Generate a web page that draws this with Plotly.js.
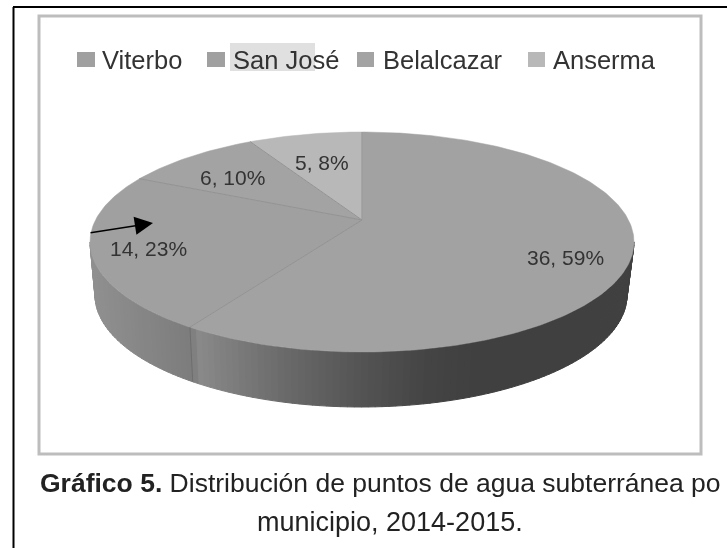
<!DOCTYPE html>
<html><head><meta charset="utf-8">
<script src="https://cdn.plot.ly/plotly-3.0.1.min.js"></script>
<style>html,body{margin:0;padding:0;background:#fff;overflow:hidden}#chart{width:727px;height:548px;filter:blur(0.7px)}</style>
</head><body><div id="chart"></div>
<script>
// ---- data ----
const categories = ["Viterbo", "San José", "Belalcazar", "Anserma"];
const values = [36, 14, 6, 5];
const sliceColors = ["#a2a2a2", "#a0a0a0", "#a3a3a3", "#b8b8b8"];
const captionLines = ["<b>Gráfico 5.</b> Distribución de puntos de agua subterránea po", "municipio, 2014-2015."];

// ---- layout constants (axes are in page pixels) ----
const topFace = {cx: 362, cy: 242, rx: 272, ry: 110, tilt: 0.2};
const bottomRim = {cx: 361, cy: 295, rx: 266, ry: 112};
const labelAt = [[565, 257], [148, 248], [232, 177], [322, 162]];
const swatchX = [[77, 95], [207, 225], [357, 374], [528, 545]];
const legendTextX = [100, 231, 381, 551];
const sideStops = [[90,0x90],[193,0x7c],[196,0x8a],[290,0x68],[370,0x52],[430,0x44],[480,0x40],[640,0x40]];

const total = values.reduce((a, b) => a + b, 0);

// circle angle (clockwise from the top) -> point of the tilted top face
function rim(theta, r) {
  const u = r * Math.sin(theta), v = r * Math.cos(theta), a = topFace.tilt;
  const d = 1 + a * v;
  return [topFace.cx + topFace.rx * u * Math.sqrt(1 - a * a) / d,
          topFace.cy - topFace.ry * (v + a) / d];
}
function sideGrey(x) {
  for (let i = 1; i < sideStops.length; i++) {
    if (x <= sideStops[i][0]) {
      const [x0, g0] = sideStops[i - 1], [x1, g1] = sideStops[i];
      const g = Math.round(g0 + (g1 - g0) * Math.max(0, x - x0) / (x1 - x0));
      return `rgb(${g},${g},${g})`;
    }
  }
  return "rgb(64,64,64)";
}

const traces = [];
// side wall strips
const strips = 120;
for (let i = 0; i < strips; i++) {
  const t0 = Math.PI + Math.PI * i / strips, t1 = Math.PI + Math.PI * (i + 1.05) / strips;
  const xs = [], ys = [];
  [[topFace, t0], [topFace, t1], [bottomRim, t1], [bottomRim, t0]].forEach(([e, t]) => {
    xs.push(e.cx + e.rx * Math.cos(t)); ys.push(e.cy - e.ry * Math.sin(t));
  });
  xs.push(xs[0]); ys.push(ys[0]);
  const c = sideGrey((xs[0] + xs[1]) / 2);
  traces.push({type: "scatter", mode: "lines", x: xs, y: ys, fill: "toself", fillcolor: c,
    line: {width: 1, color: c}, hoverinfo: "skip", showlegend: false});
}

// top-face slices
let cum = 0;
const boundaries = [];
values.forEach((v, i) => {
  const a0 = cum / total * 2 * Math.PI; cum += v;
  const a1 = cum / total * 2 * Math.PI;
  const xs = [], ys = [];
  const [ax, ay] = rim(0, 0); xs.push(ax); ys.push(ay);
  const n = Math.max(8, Math.round(v * 6));
  for (let k = 0; k <= n; k++) {
    const [px, py] = rim(a0 + (a1 - a0) * k / n, 1);
    xs.push(px); ys.push(py);
  }
  xs.push(ax); ys.push(ay);
  traces.push({type: "scatter", mode: "lines", name: categories[i], x: xs, y: ys, fill: "toself",
    fillcolor: sliceColors[i], line: {width: 0.5, color: sliceColors[i]}, hoverinfo: "skip", showlegend: false});
  boundaries.push(a1);
});
// slice separators on the top face
boundaries.forEach((a) => {
  const [ax, ay] = rim(0, 0), [px, py] = rim(a, 1);
  traces.push({type: "scatter", mode: "lines", x: [ax, px], y: [ay, py],
    line: {width: 1, color: "#939393"}, hoverinfo: "skip", showlegend: false});
});
// separator on the side wall at the Viterbo / San José edge
(function () {
  const a = values[0] / total * 2 * Math.PI;
  const [px, py] = rim(a, 1);
  const t = Math.atan2((topFace.cy - py) / topFace.ry, (px - topFace.cx) / topFace.rx);
  traces.push({type: "scatter", mode: "lines",
    x: [px, bottomRim.cx + bottomRim.rx * Math.cos(t)], y: [py, bottomRim.cy - bottomRim.ry * Math.sin(t)],
    line: {width: 1, color: "#6e6e6e"}, hoverinfo: "skip", showlegend: false});
})();

const textGrey = "#333333";
const annotations = [];
categories.forEach((c, i) => {
  annotations.push({x: legendTextX[i], y: 59.5, xref: "x", yref: "y", text: c, showarrow: false,
    xanchor: "left", yanchor: "middle", font: {family: "Liberation Sans", size: 25.5, color: textGrey}});
  const pct = Math.round(values[i] / total * 100);
  annotations.push({x: labelAt[i][0], y: labelAt[i][1], xref: "x", yref: "y", text: `${values[i]}, ${pct}%`,
    showarrow: false, xanchor: "center", yanchor: "middle", font: {family: "Liberation Sans", size: 21, color: textGrey}});
});
annotations.push({x: 38, y: 483, xref: "x", yref: "y", text: captionLines[0], showarrow: false, xanchor: "left", yanchor: "middle",
  font: {family: "Liberation Sans", size: 26.5, color: "#222222"}});
annotations.push({x: 390, y: 522, xref: "x", yref: "y", text: captionLines[1], showarrow: false, xanchor: "center", yanchor: "middle",
  font: {family: "Liberation Sans", size: 27, color: "#222222"}});
// the hand-drawn arrow
annotations.push({x: 153, y: 223, ax: 89, ay: 233, xref: "x", yref: "y", axref: "x", ayref: "y", text: "", showarrow: true,
  arrowhead: 2, arrowsize: 2.6, arrowwidth: 1.4, arrowcolor: "#000"});

const shapes = [
  {type: "rect", layer: "below", xref: "x", yref: "y", x0: 39, x1: 701, y0: 16, y1: 454, line: {color: "#bdbdbd", width: 3}, fillcolor: "#fff"},
  {type: "rect", layer: "below", xref: "x", yref: "y", x0: 230, x1: 315, y0: 43, y1: 71, line: {width: 0}, fillcolor: "#e0e0e0"},
  {type: "line", xref: "x", yref: "y", x0: 13.5, x1: 13.5, y0: 7, y1: 548, line: {color: "#000", width: 2}},
  {type: "line", xref: "x", yref: "y", x0: 13, x1: 727, y0: 7, y1: 7, line: {color: "#000", width: 2}}
];
swatchX.forEach((s, i) => shapes.push({type: "rect", xref: "x", yref: "y", x0: s[0], x1: s[1], y0: 52, y1: 67,
  line: {width: 0}, fillcolor: i === 0 || i === 1 ? "#a0a0a0" : sliceColors[i]}));

Plotly.newPlot("chart", traces, {
  width: 727, height: 548, margin: {l: 0, r: 0, t: 0, b: 0},
  paper_bgcolor: "#fff", plot_bgcolor: "rgba(0,0,0,0)", showlegend: false, hovermode: false,
  xaxis: {range: [0, 727], visible: false, fixedrange: true},
  yaxis: {range: [548, 0], visible: false, fixedrange: true},
  shapes, annotations
}, {displayModeBar: false, staticPlot: true});
</script></body></html>
